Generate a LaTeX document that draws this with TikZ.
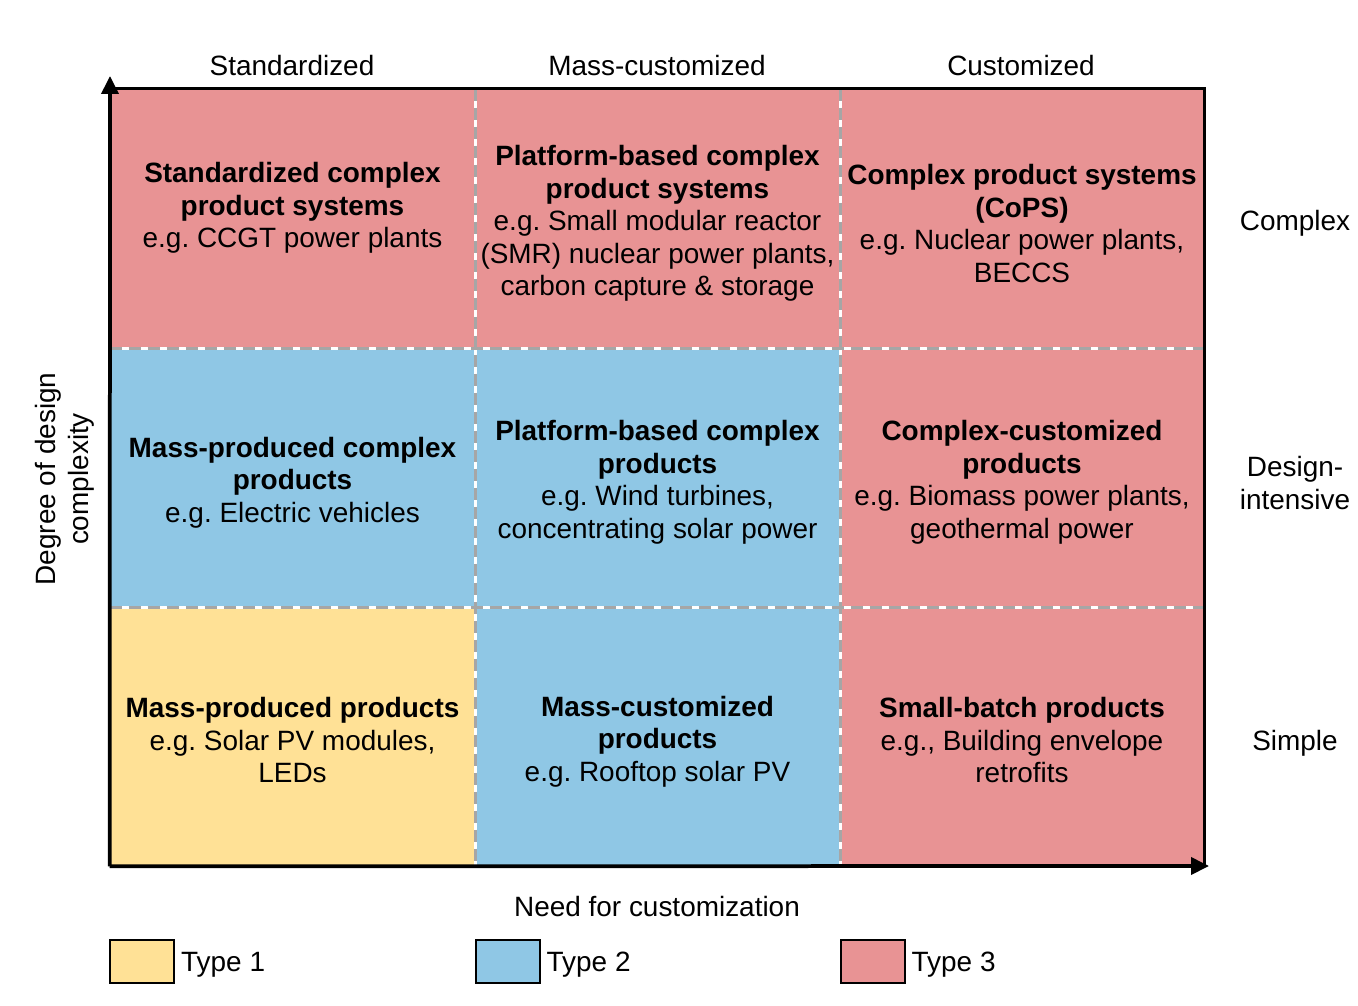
\documentclass[tikz,border=0pt]{standalone}
\usepackage{fontspec}
\setmainfont{Liberation Sans}
\usetikzlibrary{arrows.meta,positioning}
\definecolor{typeA}{RGB}{255,225,150}
\definecolor{typeB}{RGB}{143,199,229}
\definecolor{typeC}{RGB}{232,147,148}
\definecolor{sepgray}{RGB}{166,166,166}
\frenchspacing
\begin{document}
\begin{tikzpicture}[x=0.02cm,y=-0.02cm,
				font=\fontsize{15.9}{18.5}\selectfont,
				cell/.style={minimum width=7.3cm,minimum height=5.18cm,inner sep=0pt},
				txt/.style={inner sep=0pt,align=center},
				lbl/.style={inner sep=0pt,align=center},
				axis/.style={line width=0.075cm,-{Triangle[length=0.36cm,width=0.34cm]}},
				frame/.style={line width=0.065cm},
				sepw/.style={white,line width=0.06cm},
				sepg/.style={sepgray,line width=0.06cm,dash pattern=on 0.24cm off 0.14cm},
				key/.style={draw,line width=0.04cm,minimum width=1.28cm,minimum height=0.86cm}]
			\useasboundingbox (0,0) rectangle (1358,1006);
			\node [cell,fill=typeC] (r1c1) at (292.5,218.5) {};
			\node [cell,fill=typeC] (r1c2) at (657.5,218.5) {};
			\node [cell,fill=typeC] (r1c3) at (1022,218.5) {};
			\node [cell,fill=typeB] (r2c1) at (292.5,477.5) {};
			\node [cell,fill=typeB] (r2c2) at (657.5,477.5) {};
			\node [cell,fill=typeC] (r2c3) at (1022,477.5) {};
			\node [cell,fill=typeA] (r3c1) at (292.5,736.5) {};
			\node [cell,fill=typeB] (r3c2) at (657.5,736.5) {};
			\node [cell,fill=typeC] (r3c3) at (1022,736.5) {};
			\node [txt] (t11) at ([yshift=-0.06cm]r1c1) {\textbf{Standardized complex}\\\textbf{product systems}\\e.g. CCGT power plants\\\mbox{}};
			\node [txt] (t12) at ([yshift=-0.1cm]r1c2) {\textbf{Platform-based complex}\\\textbf{product systems}\\e.g. Small modular reactor\\(SMR) nuclear power plants,\\carbon capture \& storage};
			\node [txt] (t13) at ([yshift=-0.1cm]r1c3) {\textbf{Complex product systems}\\\textbf{(CoPS)}\\e.g. Nuclear power plants,\\BECCS};
			\node [txt] (t21) at ([yshift=-0.1cm]r2c1) {\textbf{Mass-produced complex}\\\textbf{products}\\e.g. Electric vehicles};
			\node [txt] (t22) at ([yshift=-0.1cm]r2c2) {\textbf{Platform-based complex}\\\textbf{products}\\e.g. Wind turbines,\\concentrating solar power};
			\node [txt] (t23) at ([yshift=-0.1cm]r2c3) {\textbf{Complex-customized}\\\textbf{products}\\e.g. Biomass power plants,\\geothermal power};
			\node [txt] (t31) at ([yshift=-0.08cm]r3c1) {\textbf{Mass-produced products}\\e.g. Solar PV modules,\\LEDs};
			\node [txt] (t32) at ([yshift=-0.1cm]r3c2) {\textbf{Mass-customized}\\\textbf{products}\\e.g. Rooftop solar PV};
			\node [txt] (t33) at ([yshift=-0.08cm]r3c3) {\textbf{Small-batch products}\\e.g., Building envelope\\retrofits};
			\foreach \c in {1,2} {
				\draw [sepw] (r1c\c.north east) -- (r3c\c.south east);
				\draw [sepg] (r1c\c.north east) -- (r3c\c.south east);
			}
			\foreach \r in {1,2} {
				\draw [sepw] (r\r c1.south west) -- (r\r c3.south east);
				\draw [sepg] (r\r c1.south west) -- (r\r c3.south east);
			}
			\coordinate (ytip) at (110,76);
			\coordinate (xtip) at (1209,866);
			\draw [frame] (r1c1.north west) -- (r1c3.north east) -- (r3c3.south east);
			\draw [axis] (r3c1.south west) -- (ytip);
			\draw [axis] (r3c1.south west) -- (xtip);
			\node [lbl] (hstd) at (292,66) {Standardized};
			\node [lbl] (hmass) at (657,66) {Mass-customized};
			\node [lbl] (hcust) at (1021,66) {Customized};
			\node [lbl] (vcomp) at (1295,223) {Complex};
			\node [lbl] (vdes) at (1295,483) {Design-\\intensive};
			\node [lbl] (vsimp) at (1295,743) {Simple};
			\node [lbl,rotate=90] (ylab) at (65,479) {Degree of design\\complexity};
			\node [lbl] (xlab) at (657,907) {Need for customization};
			\node [key,fill=typeA] (k1) at (142,961.5) {};
			\node [key,fill=typeB] (k2) at (507.5,961.5) {};
			\node [key,fill=typeC] (k3) at (872.5,961.5) {};
			\node [right=0pt of k1,yshift=-0.07cm] (t1) {Type 1};
			\node [right=0pt of k2,yshift=-0.07cm] (t2) {Type 2};
			\node [right=0pt of k3,yshift=-0.07cm] (t3) {Type 3};
		\end{tikzpicture}
\end{document}
